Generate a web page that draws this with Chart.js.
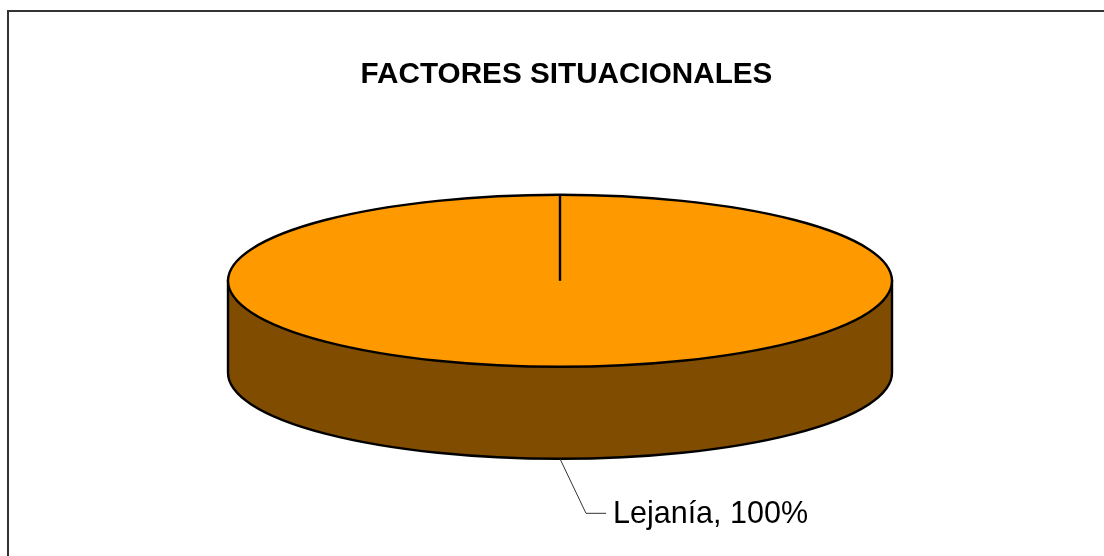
<!DOCTYPE html>
<html>
<head>
<meta charset="utf-8">
<style>
  html, body { margin: 0; padding: 0; background: #fff; overflow: hidden; }
  #chartBox { width: 1104px; height: 556px; }
</style>
<script src="https://cdn.jsdelivr.net/npm/chart.js@4/dist/chart.umd.min.js"></script>
</head>
<body>
<div id="chartBox"><canvas id="myChart" width="1104" height="556"></canvas></div>
<script>
// data
var titleText = "FACTORES SITUACIONALES";
var categories = ["Lejanía"];
var percentValues = [100];

// look of the fake 3d pie
var topColor = "#FF9900";
var wallColor = "#7F4C00";
var edgeColor = "#000000";
var edgeWidth = 2.4;
var pieRadius = 332;
var squash = 86 / 332;
var wallDepth = 92;
var fontName = "'Liberation Sans', Arial, sans-serif";

var pie3d = {
  id: "pie3d",
  afterLayout: function(chart) {
    // title sits a bit right of the middle in the original
    chart.titleBlock.left += 13;
  },
  beforeDraw: function(chart) {
    var ctx = chart.ctx;
    ctx.save();
    ctx.fillStyle = "#333333";
    ctx.fillRect(7, 10, 1097, 2);
    ctx.fillRect(7, 10, 2, 546);
    ctx.restore();
  },
  beforeDatasetsDraw: function(chart) {
    var ctx = chart.ctx;
    var arc = chart.getDatasetMeta(0).data[0];
    var r = arc.outerRadius;

    // side wall
    ctx.save();
    ctx.beginPath();
    ctx.moveTo(arc.x - r, arc.y);
    ctx.lineTo(arc.x - r, arc.y + wallDepth);
    ctx.ellipse(arc.x, arc.y + wallDepth, r, r * squash, 0, Math.PI, 0, true);
    ctx.lineTo(arc.x + r, arc.y);
    ctx.closePath();
    ctx.fillStyle = wallColor;
    ctx.fill();
    ctx.lineWidth = edgeWidth;
    ctx.strokeStyle = edgeColor;
    ctx.stroke();
    ctx.restore();

    // the library draws the slice, flattened
    ctx.save();
    ctx.translate(arc.x, arc.y);
    ctx.scale(1, squash);
    ctx.translate(-arc.x, -arc.y);
  },
  afterDatasetsDraw: function(chart) {
    var ctx = chart.ctx;
    ctx.restore();

    var arc = chart.getDatasetMeta(0).data[0];
    var r = arc.outerRadius;

    // outline of the top face and the slice edge
    ctx.save();
    ctx.lineWidth = edgeWidth;
    ctx.strokeStyle = edgeColor;
    ctx.beginPath();
    ctx.ellipse(arc.x, arc.y, r, r * squash, 0, 0, Math.PI * 2);
    ctx.stroke();
    ctx.beginPath();
    ctx.moveTo(arc.x, arc.y);
    ctx.lineTo(arc.x + r * Math.cos(arc.startAngle), arc.y + r * squash * Math.sin(arc.startAngle));
    ctx.stroke();
    ctx.restore();

    // leader line and data label
    var midAngle = (arc.startAngle + arc.endAngle) / 2;
    var ax = arc.x + r * Math.cos(midAngle);
    var ay = arc.y + r * squash * Math.sin(midAngle) + wallDepth;
    ctx.save();
    ctx.lineWidth = 1;
    ctx.strokeStyle = "#333333";
    ctx.beginPath();
    ctx.moveTo(ax, ay);
    ctx.lineTo(ax + 26, ay + 54.5);
    ctx.lineTo(ax + 46, ay + 54.5);
    ctx.stroke();
    ctx.fillStyle = "#000000";
    ctx.font = "30.5px " + fontName;
    ctx.textBaseline = "alphabetic";
    ctx.fillText(categories[0] + ", " + percentValues[0] + "%", ax + 53, ay + 64);
    ctx.restore();
  }
};

var myChart = document.getElementById("myChart").getContext("2d");
var situacionalesChart = new Chart(myChart, {
  type: "pie",
  plugins: [pie3d],
  data: {
    labels: categories,
    datasets: [{
      data: percentValues,
      backgroundColor: [topColor],
      borderWidth: 0,
      radius: pieRadius,
      clip: false
    }]
  },
  options: {
    responsive: false,
    animation: false,
    layout: {
      padding: { left: 16, bottom: 92 }
    },
    plugins: {
      legend: { display: false },
      tooltip: { enabled: false },
      title: {
        display: true,
        text: titleText,
        color: "#000000",
        font: { family: fontName, size: 29.7, weight: "bold" },
        padding: { top: 56.5, bottom: 5.5 }
      }
    }
  }
});
</script>
</body>
</html>
